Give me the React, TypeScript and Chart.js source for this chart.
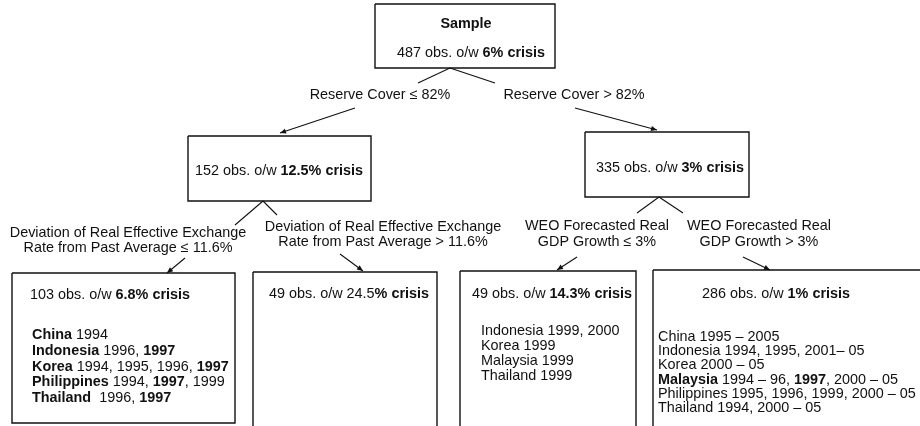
import React, { useEffect, useRef } from "react";
import { Chart, registerables } from "chart.js";

Chart.register(...registerables);

// ---------- content (texts of the decision tree) ----------
const rootTitle = "Sample";
const nodeSummaries = [
  "487 obs. o/w **6% crisis**",
  "152 obs. o/w **12.5% crisis**",
  "335 obs. o/w **3% crisis**",
  "103 obs. o/w **6.8% crisis**",
  "49 obs. o/w 24.5**% crisis**",
  "49 obs. o/w **14.3% crisis**",
  "286 obs. o/w **1% crisis**",
];
const casesLowReer = [
  "**China** 1994",
  "**Indonesia** 1996, **1997**",
  "**Korea** 1994, 1995, 1996, **1997**",
  "**Philippines** 1994, **1997**, 1999",
  "**Thailand**  1996, **1997**",
];
const casesLowGrowth = [
  "Indonesia 1999, 2000",
  "Korea 1999",
  "Malaysia 1999",
  "Thailand 1999",
];
const casesHighGrowth = [
  "China 1995 \u2013 2005",
  "Indonesia 1994, 1995, 2001\u2013 05",
  "Korea 2000 \u2013 05",
  "**Malaysia** 1994 \u2013 96, **1997**, 2000 \u2013 05",
  "Philippines 1995, 1996, 1999, 2000 \u2013 05",
  "Thailand 1994, 2000 \u2013 05",
];
const splitLabels = [
  ["Reserve Cover \u2264 82%"],
  ["Reserve Cover > 82%"],
  ["Deviation of Real Effective Exchange", "Rate from Past Average \u2264 11.6%"],
  ["Deviation of Real Effective Exchange", "Rate from Past Average > 11.6%"],
  ["WEO Forecasted Real", "GDP Growth \u2264 3%"],
  ["WEO Forecasted Real", "GDP Growth > 3%"],
];

// ---------- layout (in the 920 x 426 value space of the hidden scales) ----------
const nodeRects = [
  [375, 4, 555, 68],
  [188, 136, 371, 201],
  [585, 132, 749, 197],
  [12, 273, 235, 423],
  [253, 272, 437, 440],
  [460, 271, 636, 440],
  [653, 270, 935, 440],
];
const summaryAnchors: [number, number, string][] = [
  [471, 53, "center"],
  [279, 171, "center"],
  [670, 168, "center"],
  [30, 295, "left"],
  [269, 294, "left"],
  [472, 294, "left"],
  [702, 294, "left"],
];
const titleAnchor = [466, 24];
const caseBlocks: [string[], number, number, number][] = [
  [casesLowReer, 32, 335, 15.8],
  [casesLowGrowth, 481, 331, 15],
  [casesHighGrowth, 658, 337, 14.2],
];
const labelAnchors = [
  [380, 95, 16],
  [574, 95, 16],
  [128, 233, 15.5],
  [383, 227, 15.5],
  [597, 226, 16.5],
  [759, 226, 16.5],
];
const connectors = [
  [450, 68, 418, 83],
  [450, 68, 495, 83],
  [263, 201, 235, 225],
  [263, 201, 277, 215],
  [659, 197, 637, 213],
  [659, 197, 683, 213],
];
const arrows = [
  [355, 108, 280, 133],
  [575, 108, 657, 130],
  [185, 258, 167, 273],
  [340, 254, 363, 271],
  [577, 257, 557, 270],
  [743, 257, 770, 270],
];

const INK = "#111111";
const FONT = '"Liberation Sans", Arial, Helvetica, sans-serif';
const SIZE = 14.4;

function parseRuns(s: string) {
  const runs: { t: string; b: boolean }[] = [];
  const re = /\*\*(.+?)\*\*/g;
  let last = 0;
  let m: RegExpExecArray | null;
  while ((m = re.exec(s))) {
    if (m.index > last) runs.push({ t: s.slice(last, m.index), b: false });
    runs.push({ t: m[1], b: true });
    last = m.index + m[0].length;
  }
  if (last < s.length) runs.push({ t: s.slice(last), b: false });
  return runs;
}

function drawRich(ctx: CanvasRenderingContext2D, s: string, X: number, Y: number, align: string) {
  const runs = parseRuns(s);
  const widths = runs.map((r) => {
    ctx.font = `${r.b ? "bold " : ""}${SIZE}px ${FONT}`;
    return ctx.measureText(r.t).width;
  });
  const total = widths.reduce((a, b) => a + b, 0);
  let cx = align === "center" ? X - total / 2 : X;
  ctx.textAlign = "left";
  ctx.textBaseline = "middle";
  ctx.fillStyle = INK;
  runs.forEach((r, i) => {
    ctx.font = `${r.b ? "bold " : ""}${SIZE}px ${FONT}`;
    ctx.fillText(r.t, cx, Y);
    cx += widths[i];
  });
}

const treePlugin = {
  id: "treeText",
  afterDatasetsDraw(chart: any) {
    const { ctx, scales } = chart;
    const px = (v: number) => scales.x.getPixelForValue(v);
    const py = (v: number) => scales.y.getPixelForValue(v);
    ctx.save();
    // arrowheads
    arrows.forEach(([x0, y0, x1, y1]) => {
      const X0 = px(x0), Y0 = py(y0), X1 = px(x1), Y1 = py(y1);
      const a = Math.atan2(Y1 - Y0, X1 - X0);
      const len = 6, w = 2.6;
      ctx.beginPath();
      ctx.moveTo(X1, Y1);
      ctx.lineTo(X1 - len * Math.cos(a) + w * Math.sin(a), Y1 - len * Math.sin(a) - w * Math.cos(a));
      ctx.lineTo(X1 - len * Math.cos(a) - w * Math.sin(a), Y1 - len * Math.sin(a) + w * Math.cos(a));
      ctx.closePath();
      ctx.fillStyle = INK;
      ctx.fill();
    });
    // title
    drawRich(ctx, `**${rootTitle}**`, px(titleAnchor[0]), py(titleAnchor[1]), "center");
    // summaries
    nodeSummaries.forEach((s, i) => {
      const [ax, ay, al] = summaryAnchors[i];
      drawRich(ctx, s, px(ax), py(ay), al);
    });
    // case lists
    caseBlocks.forEach(([lines, ax, ay, lh]) => {
      lines.forEach((s, j) => drawRich(ctx, s, px(ax), py(ay + j * lh), "left"));
    });
    // split labels
    splitLabels.forEach((lines, i) => {
      const [ax, ay, lh] = labelAnchors[i];
      lines.forEach((s, j) => drawRich(ctx, s, px(ax), py(ay + j * lh), "center"));
    });
    ctx.restore();
  },
};

export default function App() {
  const ref = useRef<HTMLCanvasElement | null>(null);
  useEffect(() => {
    document.body.style.margin = "0";
    const canvas = ref.current;
    if (!canvas) return;
    const datasets: any[] = [];
    nodeRects.forEach(([x0, y0, x1, y1]) => {
      datasets.push({
        data: [
          { x: x0, y: y0 },
          { x: x1, y: y0 },
          { x: x1, y: y1 },
          { x: x0, y: y1 },
          { x: x0, y: y0 },
        ],
        showLine: true,
        borderColor: INK,
        borderWidth: 1.4,
        pointRadius: 0,
        fill: false,
        tension: 0,
        borderJoinStyle: "miter",
      });
    });
    [...connectors, ...arrows].forEach(([x0, y0, x1, y1]) => {
      datasets.push({
        data: [
          { x: x0, y: y0 },
          { x: x1, y: y1 },
        ],
        showLine: true,
        borderColor: INK,
        borderWidth: 1.1,
        pointRadius: 0,
        fill: false,
        tension: 0,
      });
    });
    const chart = new Chart(canvas, {
      type: "scatter",
      data: { datasets },
      options: {
        animation: false,
        responsive: false,
        events: [],
        layout: { padding: 0 },
        plugins: { legend: { display: false }, tooltip: { enabled: false } },
        scales: {
          x: { type: "linear", min: 0, max: 920, display: false },
          y: { type: "linear", min: 0, max: 426, reverse: true, display: false },
        },
      },
      plugins: [treePlugin],
    });
    return () => chart.destroy();
  }, []);
  return (
    <div style={{ width: 920, height: 426, background: "#fff" }}>
      <canvas ref={ref} width={920} height={426} style={{ display: "block" }} />
    </div>
  );
}
